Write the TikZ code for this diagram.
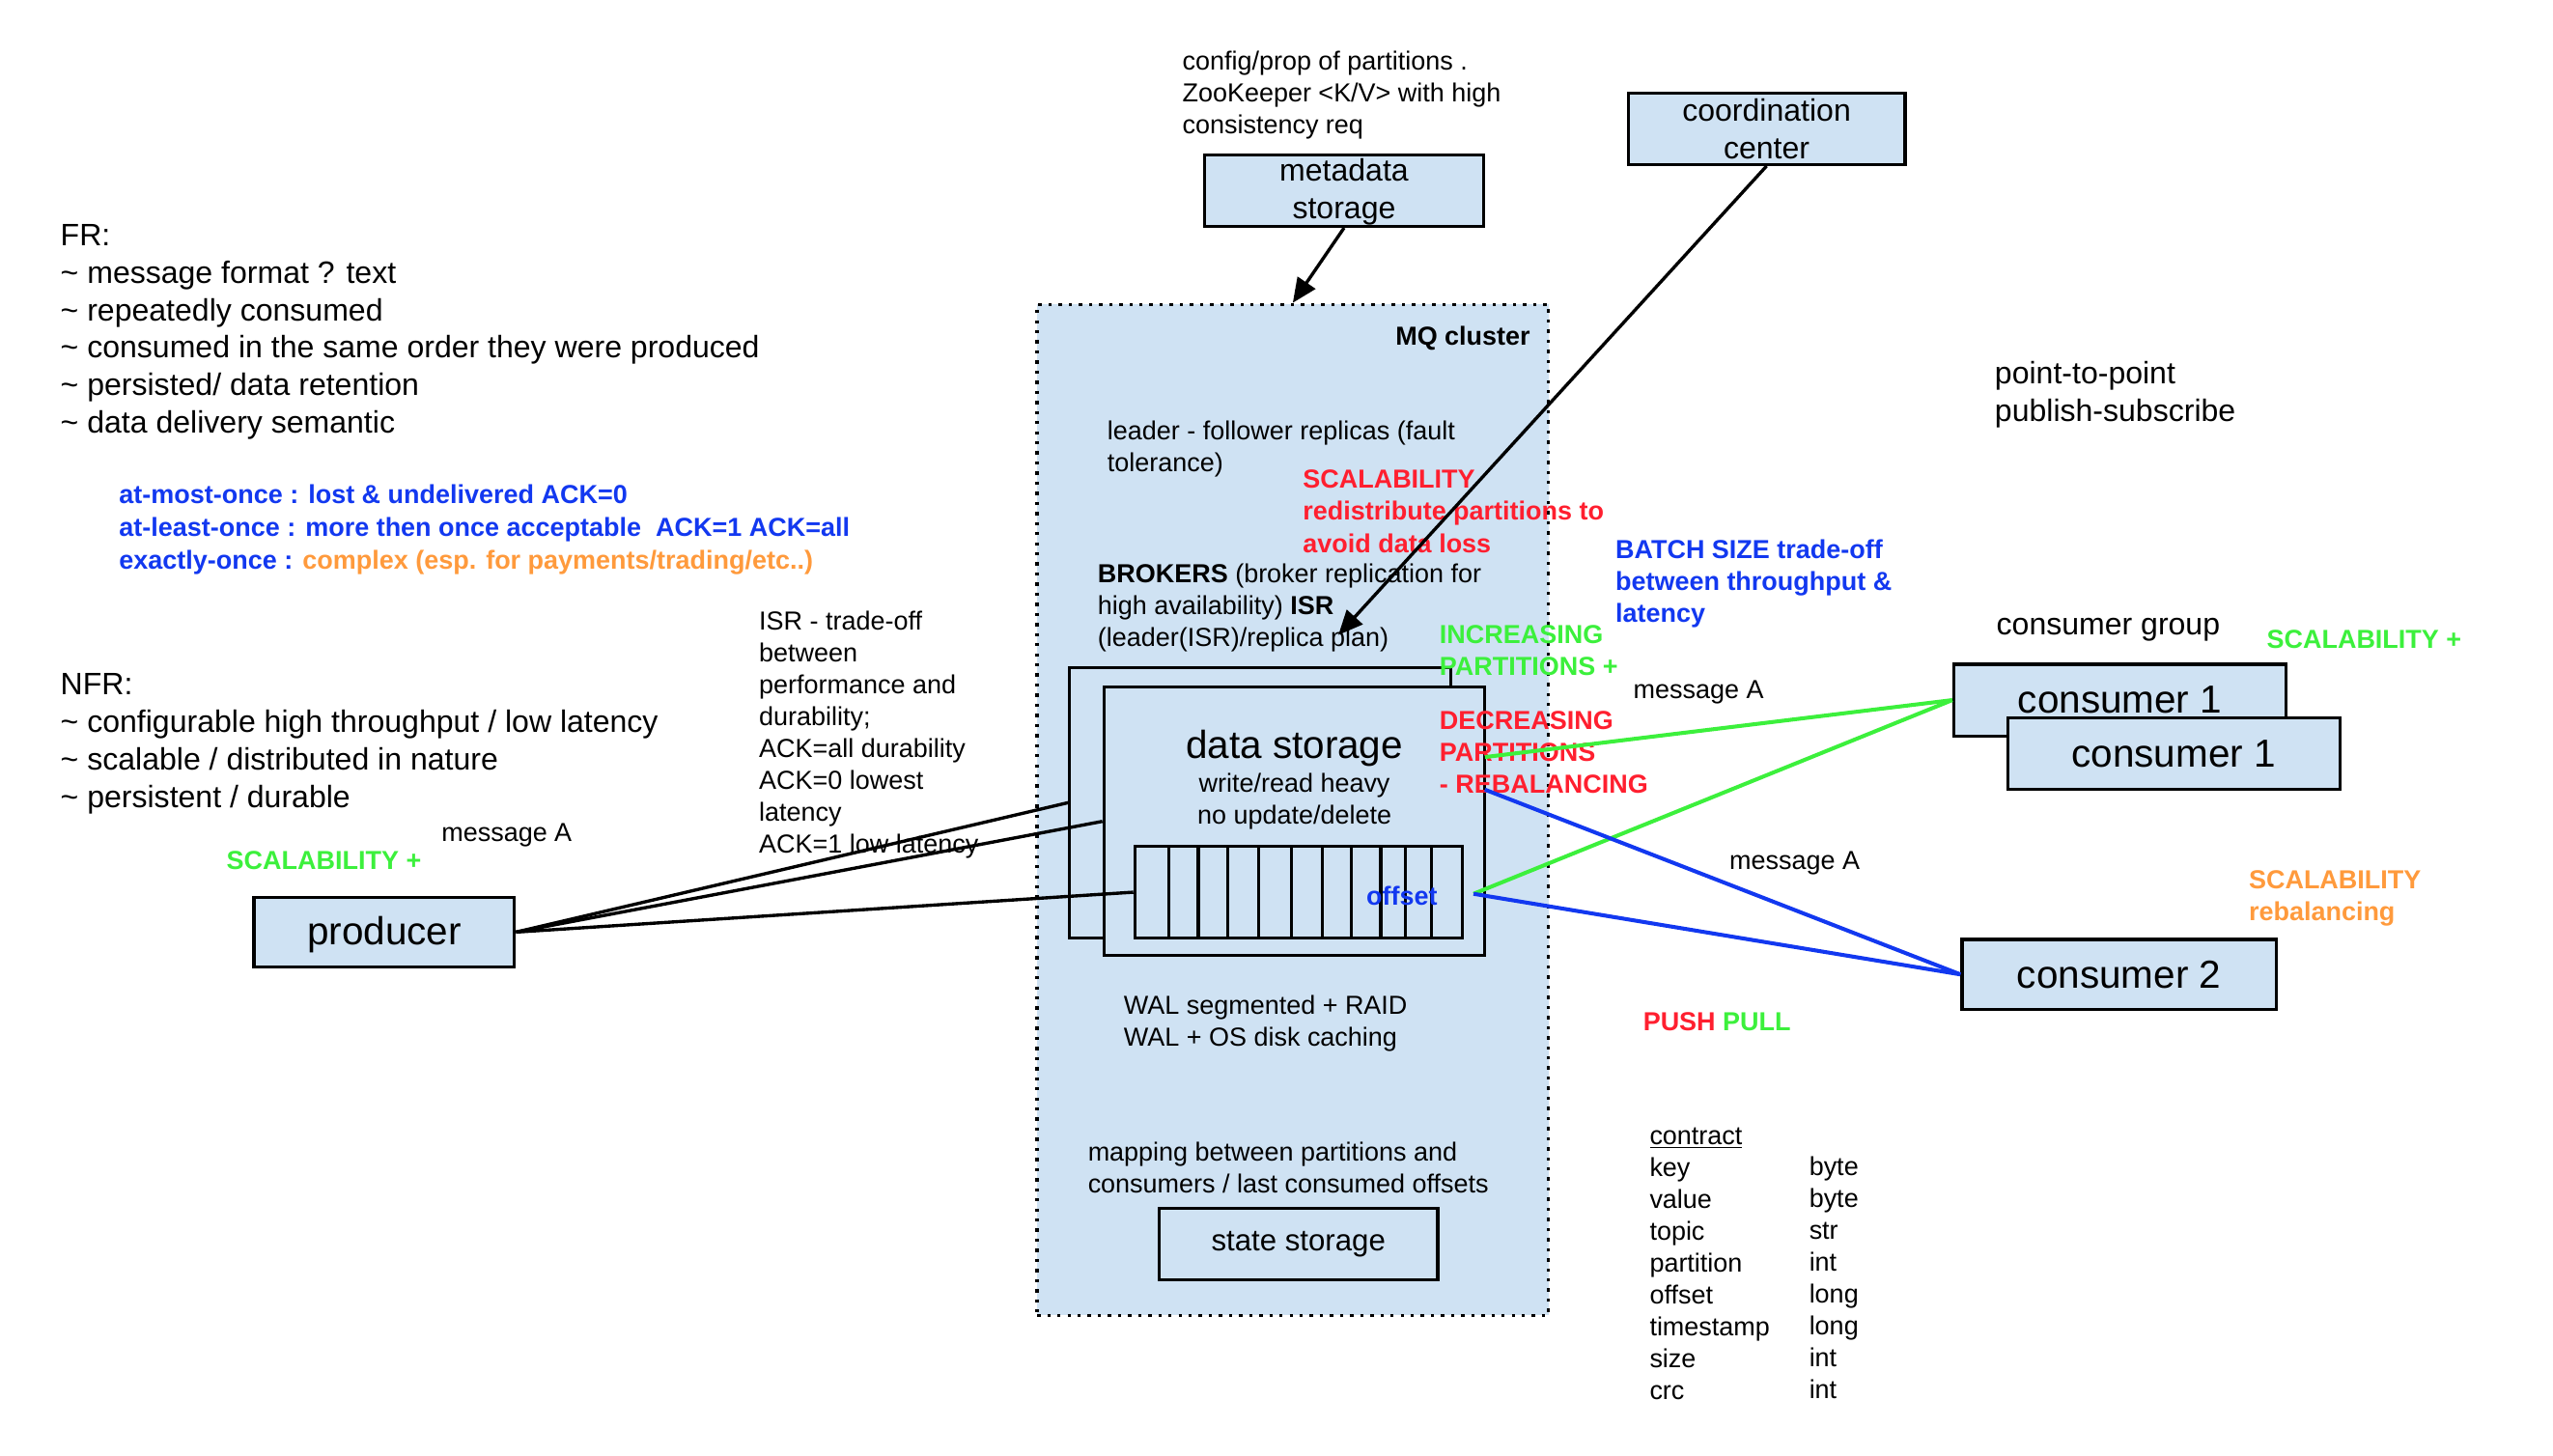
\documentclass[tikz,border=0pt]{standalone}
\usepackage{fontspec}
\setmainfont{Liberation Sans}
\usetikzlibrary{arrows.meta}
\definecolor{boxblue}{HTML}{CFE2F3}
\definecolor{mygreen}{HTML}{3CF03C}
\definecolor{myred}{HTML}{FF1F2F}
\definecolor{myblue}{HTML}{1238F0}
\definecolor{myorange}{HTML}{FF9A3C}
\begin{document}
\begin{tikzpicture}[x=1pt,y=-1pt,
  box/.style={draw=black, line width=1.9pt, fill=boxblue, inner sep=0pt, align=center},
  t16/.style={anchor=north west, inner sep=0pt, align=left, font=\fontsize{16}{19.6}\selectfont},
  tb16/.style={t16, font=\bfseries\fontsize{16}{19.6}\selectfont},
  t19/.style={anchor=north west, inner sep=0pt, align=left, font=\fontsize{19}{23}\selectfont},
  big/.style={font=\fontsize{24}{28}\selectfont},
  mid/.style={font=\fontsize{19}{23}\selectfont},
  conn/.style={line width=2pt},
  cconn/.style={line width=2.4pt},
  arr/.style={conn, -{Triangle[length=15pt,width=13pt]}},
]
\useasboundingbox (0,0) rectangle (1568,894.3);
\fill[white] (0,0) rectangle (1568,894.3);

% MQ cluster
\node[draw=black, fill=boxblue, line width=2pt, dash pattern=on 2pt off 4.2pt,
      minimum width=314pt, minimum height=621pt, inner sep=0pt] (mq) at (794,497.5) {};
\node[anchor=base east, inner sep=0pt, font=\bfseries\fontsize{16}{19}\selectfont] (mqlbl) at (940,211.8) {MQ cluster};

% data storage
\node[box, minimum width=234pt, minimum height=166pt] (dsback) at (774,493) {};
\node[box, minimum width=234pt, minimum height=165pt] (dsfront) at (795,504.5) {};
\node[box, minimum width=201pt, minimum height=56pt] (part) at (797.5,548) {};
\foreach \xx in {718,736,754,773,793,812,830,848,863,879}
  \draw[line width=1.9pt] (\xx,520) -- (\xx,576);
\node[anchor=base, inner sep=0pt, big] (dstitle) at (795,465.8) {data storage};
\node[anchor=base, inner sep=0pt, font=\fontsize{16}{19}\selectfont] (dsl1) at (795,486.3) {write/read heavy};
\node[anchor=base, inner sep=0pt, font=\fontsize{16}{19}\selectfont] (dsl2) at (795,506.3) {no update/delete};
\node[anchor=base, inner sep=0pt, font=\bfseries\fontsize{16}{19}\selectfont, text=myblue] (offlbl) at (861,556) {offset};

% boxes
\node[box, minimum width=171pt, minimum height=44pt, mid] (meta) at (825.5,117) {\rule{0pt}{15pt}metadata\\storage};
\node[box, minimum width=170pt, minimum height=44pt, mid] (coord) at (1085,79) {coordination\\center};
\node[box, minimum width=171pt, minimum height=44pt, font=\fontsize{18.5}{22}\selectfont] (state) at (797.5,764) {state storage};
\node[box, minimum width=160pt, minimum height=43pt, big] (prod) at (236,572.5) {\rule{0pt}{21pt}producer};
\node[box, minimum width=204pt, minimum height=44pt, big] (c1b) at (1302,430) {consumer 1};
\node[box, minimum width=204pt, minimum height=44pt, big] (c1f) at (1335,463) {consumer 1};
\node[box, minimum width=193pt, minimum height=43pt, big] (c2) at (1301.5,598.5) {consumer 2};

% texts
\node[t16] (cfg) at (726,29.1) {\strut config/prop of partitions .\\ZooKeeper <K/V> with high\\consistency req};
\node[t16] (leader) at (680,256.1) {\strut leader - follower replicas (fault\\tolerance)};
\node[tb16, text=myred] (scal1) at (800,286.1) {\strut SCALABILITY\\redistribute partitions to\\avoid data loss};
\node[t16] (brokers) at (674,344.1) {\strut\textbf{BROKERS} (broker replication for\\high availability) \textbf{ISR}\\(leader(ISR)/replica plan)};
\node[t16] (isr) at (466,373.1) {\strut ISR - trade-off\\between\\performance and\\durability;\\ACK=all durability\\ACK=0 lowest\\latency\\ACK=1 low latency};
\node[tb16, text=mygreen] (incr) at (884,381.1) {\strut INCREASING\\PARTITIONS +};
\node[tb16, text=myred] (decr) at (884,434.1) {\strut DECREASING\\PARTITIONS\\- REBALANCING};
\node[tb16, text=myblue] (batch) at (992,329.1) {\strut BATCH SIZE trade-off\\between throughput \&\\latency};
\node[t19] (ptp) at (1225,219.6) {\strut point-to-point\\publish-subscribe};
\node[t19] (cgroup) at (1226,373.6) {\strut consumer group};
\node[tb16, text=mygreen] (scal2) at (1392,384.1) {\strut SCALABILITY +};
\node[t16] (msgA1) at (1003,415.1) {\strut message A};
\node[t16] (msgA2) at (1062,520.1) {\strut message A};
\node[t16] (msgA3) at (271,503.1) {\strut message A};
\node[tb16, text=myorange] (scal3) at (1381,532.1) {\strut SCALABILITY\\rebalancing};
\node[tb16] (pushpull) at (1009,619.1) {\strut\textcolor{myred}{PUSH} \textcolor{mygreen}{PULL}};
\node[t16] (ckeys) at (1013,689.1) {\strut\underline{contract}\\key\\value\\topic\\partition\\offset\\timestamp\\size\\crc};
\node[t16] (cvals) at (1111,708.1) {\strut byte\\byte\\str\\int\\long\\long\\int\\int};
\node[t19] (fr) at (37,134.6) {\strut FR:\\\textasciitilde{} message format ? text\\\textasciitilde{} repeatedly consumed\\\textasciitilde{} consumed in the same order they were produced\\\textasciitilde{} persisted/ data retention\\\textasciitilde{} data delivery semantic};
\node[tb16, text=myblue, font=\bfseries\fontsize{16}{20}\selectfont] (sem) at (73,295.1) {\strut at-most-once : lost \& undelivered ACK=0\\at-least-once : more then once acceptable\ \ ACK=1 ACK=all\\exactly-once : \textcolor{myorange}{complex (esp. for payments/trading/etc..)}};
\node[t19] (nfr) at (37,410.6) {\strut NFR:\\\textasciitilde{} configurable high throughput / low latency\\\textasciitilde{} scalable / distributed in nature\\\textasciitilde{} persistent / durable};
\node[tb16, text=mygreen] (scal4) at (139,520.1) {\strut SCALABILITY +};
\node[t16] (wal) at (690,609.1) {\strut WAL segmented + RAID\\WAL + OS disk caching};
\node[t16] (mapping) at (668,699.1) {\strut mapping between partitions and\\consumers / last consumed offsets};

% connectors
\coordinate (isrtip) at (822,390);
\coordinate (g1) at (912,465);
\coordinate (b1) at (912,485);
\coordinate (off) at (905,549);
\draw[arr] (meta.south) -- (mq.north);
\draw[arr] (coord.south) -- (isrtip);
\draw[conn] (prod.east) -- (dsback.west);
\draw[conn] (prod.east) -- (dsfront.west);
\draw[conn] (prod.east) -- (part.west);
\draw[cconn, mygreen] (g1) -- (c1b.west);
\draw[cconn, mygreen] (off) -- (c1b.west);
\draw[cconn, myblue] (b1) -- (c2.west);
\draw[cconn, myblue] (off) -- (c2.west);
\end{tikzpicture}
\end{document}
